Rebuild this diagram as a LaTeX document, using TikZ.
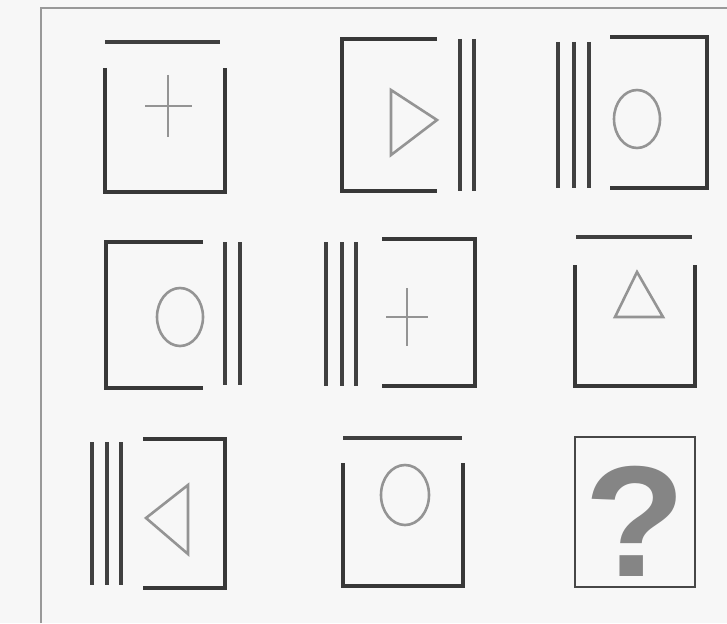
\documentclass[tikz,border=0pt]{standalone}
\usepackage{fontspec}
\setmainfont{Liberation Sans}
\begin{document}
\begin{tikzpicture}[x=1pt,y=-1pt,
  frameline/.style={draw=black!40,line width=2.4pt},
  boxline/.style={draw=black!78,line width=3.6pt},
  barline/.style={draw=black!75,line width=3.4pt},
  figline/.style={draw=black!42,line width=2.6pt},
  qbox/.style={draw=black!72,line width=2.4pt}]
\useasboundingbox (0,0) rectangle (727,623);
\fill[black!3] (0,0) rectangle (727,623);
% outer frame
\draw[frameline] (41,623) -- (41,8) -- (727,8);
% ---- row 1 ----
% cell 1
\draw[barline] (105,42) -- (220,42);
\draw[boxline] (105,68) -- (105,192) -- (225,192) -- (225,68);
\draw[figline] (168,75) -- (168,137) (145,106) -- (192,106);
% cell 2
\draw[boxline] (437,39) -- (342,39) -- (342,191) -- (437,191);
\draw[barline] (460,39) -- (460,191) (474,39) -- (474,191);
\draw[figline] (391,90) -- (437,120) -- (391,155) -- cycle;
% cell 3
\draw[barline] (558,42) -- (558,188) (574,42) -- (574,188) (589,42) -- (589,188);
\draw[boxline] (610,37) -- (707,37) -- (707,188) -- (610,188);
\draw[figline] (637,119) ellipse [x radius=23, y radius=29];
% ---- row 2 ----
% cell 4
\draw[boxline] (203,242) -- (106,242) -- (106,388) -- (203,388);
\draw[barline] (225,242) -- (225,385) (240,242) -- (240,385);
\draw[figline] (180,317) ellipse [x radius=23, y radius=29];
% cell 5
\draw[barline] (326,242) -- (326,386) (342,242) -- (342,386) (356,242) -- (356,386);
\draw[boxline] (382,239) -- (475,239) -- (475,386) -- (382,386);
\draw[figline] (407,288) -- (407,346) (386,317) -- (428,317);
% cell 6
\draw[barline] (576,237) -- (692,237);
\draw[boxline] (575,265) -- (575,386) -- (695,386) -- (695,265);
\draw[figline] (637,272) -- (663,317) -- (615,317) -- cycle;
% ---- row 3 ----
% cell 7
\draw[barline] (92,442) -- (92,585) (107,442) -- (107,585) (121,442) -- (121,585);
\draw[boxline] (143,439) -- (225,439) -- (225,588) -- (143,588);
\draw[figline] (146,518) -- (188,485) -- (188,554) -- cycle;
% cell 8
\draw[barline] (343,438) -- (462,438);
\draw[boxline] (343,463) -- (343,586) -- (463,586) -- (463,463);
\draw[figline] (405,495) ellipse [x radius=24, y radius=30];
% cell 9
\draw[qbox] (575,437) rectangle (695,587);
\node[text=black!48,font=\fontsize{158}{158}\selectfont\bfseries,inner sep=0pt,xscale=1.05] (q) at (635,521) {?};
\end{tikzpicture}
\end{document}
